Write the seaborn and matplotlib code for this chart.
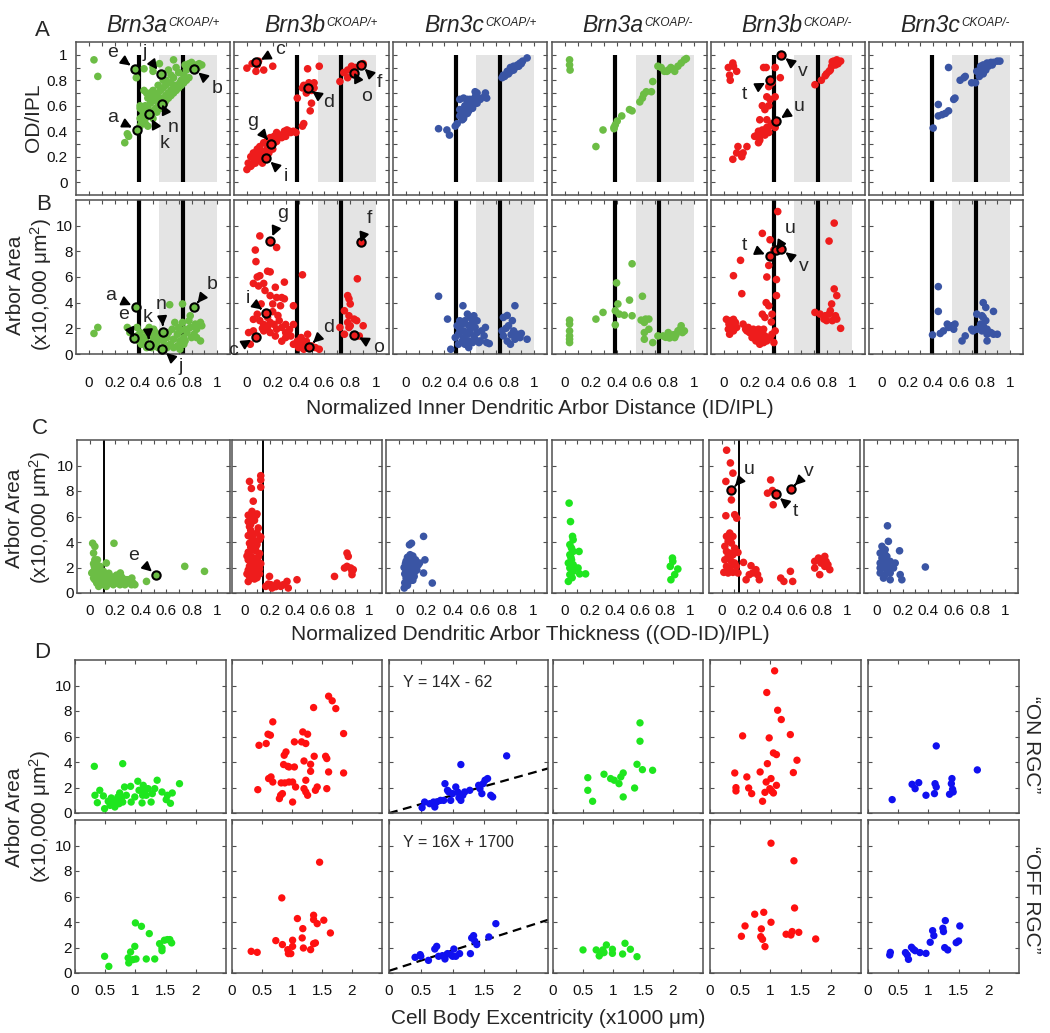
import matplotlib
matplotlib.use('Agg')
import matplotlib.pyplot as plt
from matplotlib.patches import Rectangle
import numpy as np
import seaborn as sns

# ---------------- data ----------------
genotypes = ['Brn3a', 'Brn3b', 'Brn3c', 'Brn3a', 'Brn3b', 'Brn3c']
alleles = ['CKOAP/+', 'CKOAP/+', 'CKOAP/+', 'CKOAP/-', 'CKOAP/-', 'CKOAP/-']

# IPL sublamina boundaries and ON band (ID/IPL units)
sublamina_lines = [0.39, 0.73]
on_band = [0.55, 1.0]
# thickness cut-offs in row C (None = no line)
thickness_cut = [0.11, 0.15, None, None, 0.14, None]

# row A: (ID/IPL, OD/IPL)
od_3a_het = [(0.04,0.96),(0.07,0.83),(0.36,0.89),(0.37,0.82),(0.43,0.89),(0.50,0.87),(0.56,0.85),(0.66,0.96),
             (0.60,0.80),(0.62,0.88),(0.64,0.84),(0.68,0.90),(0.70,0.86),(0.72,0.80),(0.75,0.92),(0.78,0.93),
             (0.80,0.94),(0.82,0.89),(0.84,0.92),(0.86,0.93),(0.88,0.92),(0.85,0.90),(0.79,0.90),(0.76,0.88),
             (0.74,0.84),(0.71,0.78),(0.68,0.76),(0.66,0.74),(0.64,0.72),(0.62,0.70),(0.60,0.68),(0.58,0.66),
             (0.56,0.64),(0.57,0.61),(0.54,0.62),(0.52,0.58),(0.50,0.56),(0.48,0.54),(0.47,0.535),(0.45,0.52),
             (0.44,0.50),(0.42,0.48),(0.41,0.46),(0.40,0.44),(0.375,0.41),(0.30,0.38),(0.31,0.36),(0.28,0.31),
             (0.40,0.58),(0.42,0.56),(0.44,0.60),(0.46,0.66),(0.48,0.70),(0.50,0.72),(0.52,0.68),(0.54,0.70),
             (0.56,0.72),(0.58,0.74),(0.60,0.76),(0.62,0.78),(0.58,0.80),(0.54,0.76),(0.50,0.66),(0.48,0.62),
             (0.46,0.58),(0.44,0.55),(0.42,0.52),(0.40,0.50),(0.43,0.72),(0.45,0.70),(0.40,0.60),(0.52,0.64),
             (0.55,0.66),(0.60,0.64),(0.62,0.66),(0.64,0.68),(0.66,0.70),(0.68,0.72),(0.70,0.74),(0.72,0.76),
             (0.74,0.78),(0.76,0.80),(0.78,0.82),(0.46,0.44),(0.44,0.46),(0.50,0.50),(0.53,0.55),(0.56,0.58),
             (0.59,0.62),(0.64,0.78),(0.66,0.82),(0.50,0.90),(0.55,0.93)]
od_3b_het = [(0.00,0.895),(0.04,0.93),(0.08,0.92),(0.09,0.95),(0.07,0.87),(0.13,0.88),(0.20,0.91),(0.07,0.94),
             (0.47,0.89),(0.56,0.91),(0.39,0.66),(0.43,0.74),(0.47,0.74),(0.44,0.76),(0.48,0.78),(0.50,0.76),
             (0.52,0.78),(0.50,0.72),(0.46,0.70),(0.52,0.74),(0.49,0.56),(0.50,0.62),(0.44,0.46),(0.43,0.44),
             (0.38,0.39),(0.72,0.79),(0.75,0.86),(0.78,0.88),(0.88,0.92),(0.83,0.86),(0.81,0.91),(0.84,0.90),
             (0.90,0.93),(0.78,0.82),(0.00,0.10),(0.01,0.15),(0.03,0.20),(0.19,0.30),(0.15,0.19),(0.05,0.23),
             (0.08,0.26),(0.10,0.28),(0.13,0.31),(0.16,0.33),(0.18,0.35),(0.21,0.36),(0.23,0.39),(0.26,0.37),
             (0.29,0.40),(0.31,0.41),(0.34,0.39),(0.09,0.18),(0.065,0.15),(0.04,0.14),(0.10,0.22),(0.13,0.24),
             (0.16,0.27),(0.18,0.28),(0.21,0.31),(0.23,0.32),(0.27,0.35),(0.05,0.19),(0.08,0.20),(0.12,0.15),
             (0.03,0.125),(0.14,0.20),(0.17,0.23),(0.20,0.26),(0.22,0.33),(0.25,0.36),(0.30,0.36),(0.33,0.40),
             (0.36,0.40)]
od_3c_het = [(0.255,0.42),(0.32,0.41),(0.34,0.37),(0.385,0.44),(0.40,0.46),(0.42,0.52),(0.44,0.54),(0.45,0.57),
             (0.46,0.60),(0.48,0.62),(0.49,0.63),(0.50,0.65),(0.52,0.62),(0.53,0.65),(0.54,0.67),(0.555,0.70),
             (0.57,0.66),(0.58,0.65),(0.61,0.67),(0.62,0.70),(0.63,0.66),(0.42,0.65),(0.45,0.66),(0.48,0.65),
             (0.54,0.71),(0.44,0.49),(0.46,0.53),(0.49,0.56),(0.52,0.58),(0.45,0.50),(0.42,0.57),(0.50,0.60),
             (0.53,0.61),(0.48,0.54),(0.555,0.62),(0.75,0.82),(0.76,0.84),(0.79,0.87),(0.815,0.90),(0.84,0.91),
             (0.87,0.92),(0.89,0.935),(0.945,0.975),(0.80,0.85),(0.83,0.88),(0.77,0.83),(0.85,0.90),(0.88,0.91),
             (0.91,0.95),(0.90,0.93),(0.79,0.85),(0.815,0.87),(0.84,0.88)]
od_3a_ko = [(0.036,0.96),(0.036,0.92),(0.04,0.88),(0.24,0.28),(0.295,0.41),(0.38,0.43),(0.39,0.45),(0.405,0.48),
            (0.44,0.52),(0.50,0.57),(0.52,0.56),(0.58,0.63),(0.60,0.66),(0.61,0.69),(0.63,0.71),(0.68,0.79),
            (0.67,0.71),(0.72,0.91),(0.745,0.90),(0.77,0.87),(0.80,0.88),(0.82,0.90),(0.85,0.87),(0.875,0.91),
            (0.90,0.935),(0.925,0.96),(0.94,0.97),(0.79,0.87),(0.83,0.89),(0.38,0.42)]
od_3b_ko = [(0.07,0.935),(0.075,0.91),(0.035,0.90),(0.10,0.87),(0.05,0.80),(0.045,0.84),(0.31,0.90),(0.33,0.90),
            (0.40,0.90),(0.36,0.80),(0.35,0.75),(0.375,0.78),(0.44,0.82),(0.445,1.00),(0.335,0.67),(0.36,0.65),
            (0.40,0.67),(0.30,0.60),(0.32,0.57),(0.35,0.60),(0.41,0.48),(0.28,0.49),(0.27,0.40),(0.26,0.37),
            (0.28,0.36),(0.31,0.40),(0.335,0.43),(0.36,0.44),(0.385,0.45),(0.40,0.43),(0.30,0.41),(0.32,0.37),
            (0.35,0.39),(0.27,0.31),(0.28,0.33),(0.24,0.36),(0.11,0.28),(0.10,0.23),(0.14,0.20),(0.15,0.23),
            (0.18,0.28),(0.07,0.18),(0.335,0.49),(0.375,0.46),(0.71,0.765),(0.76,0.80),(0.79,0.835),(0.82,0.87),
            (0.84,0.91),(0.855,0.95),(0.88,0.96),(0.91,0.95),(0.87,0.92),(0.89,0.93),(0.83,0.88),(0.845,0.945),
            (0.80,0.85)]
od_3c_ko = [(0.40,0.425),(0.44,0.61),(0.44,0.52),(0.47,0.53),(0.495,0.54),(0.52,0.56),(0.56,0.65),(0.57,0.66),
            (0.52,0.90),(0.61,0.80),(0.64,0.82),(0.65,0.83),(0.70,0.78),(0.73,0.78),(0.74,0.87),(0.77,0.91),
            (0.79,0.92),(0.82,0.935),(0.85,0.94),(0.87,0.94),(0.90,0.95),(0.92,0.95),(0.78,0.87),(0.81,0.88),
            (0.76,0.83),(0.79,0.85),(0.83,0.91),(0.86,0.92),(0.77,0.86),(0.81,0.91)]

# row B: (ID/IPL, arbor area x10,000 um2)
area_3a_het = [(0.04,1.6),(0.07,2.07),(0.37,3.63),(0.35,1.28),(0.30,2.07),(0.32,1.67),(0.47,0.71),(0.58,1.75),
               (0.57,0.37),(0.63,3.84),(0.73,3.9),(0.82,3.63),(0.79,2.98),(0.87,2.46),(0.88,2.2),(0.84,1.93),
               (0.87,1.02),(0.80,1.28),(0.375,2.07),(0.40,1.67),(0.43,1.28),(0.45,1.8),(0.48,1.41),(0.505,1.02),
               (0.53,1.28),(0.56,1.54),(0.58,1.02),(0.61,1.28),(0.635,0.76),(0.66,1.15),(0.69,1.54),(0.71,1.02),
               (0.74,1.28),(0.765,1.67),(0.79,2.07),(0.82,1.54),(0.84,1.28),(0.39,1.02),(0.41,0.76),(0.44,1.15),
               (0.49,0.5),(0.52,0.76),(0.54,0.5),(0.60,0.63),(0.62,1.67),(0.65,1.93),(0.67,2.46),(0.70,2.07),
               (0.73,2.46),(0.75,1.93),(0.78,2.59),(0.83,2.33),(0.47,2.07),(0.505,1.93),(0.53,0.89),(0.57,1.15),
               (0.61,0.5),(0.66,0.5),(0.69,0.63),(0.71,0.37),(0.74,0.76),(0.45,0.5),(0.40,1.28),(0.375,1.41),
               (0.49,1.54),(0.52,1.67),(0.71,1.8),(0.75,1.02)]
area_3b_het = [(0.026,0.76),(0.07,1.33),(0.013,1.67),(0.05,1.8),(0.15,3.2),(0.18,8.78),(0.10,9.2),(0.065,8.1),
               (0.07,7.2),(0.08,6.0),(0.10,6.1),(0.16,6.45),(0.18,6.4),(0.23,8.3),(0.05,5.5),(0.09,5.3),
               (0.13,5.5),(0.14,4.95),(0.22,5.2),(0.29,5.6),(0.23,4.4),(0.27,4.4),(0.29,4.3),(0.36,3.76),
               (0.18,4.55),(0.20,3.9),(0.26,3.76),(0.08,3.1),(0.10,2.6),(0.13,2.3),(0.16,2.85),(0.18,2.46),
               (0.21,2.3),(0.25,2.6),(0.27,2.07),(0.30,1.67),(0.34,1.4),(0.36,2.3),(0.30,1.28),(0.16,2.07),
               (0.05,2.7),(0.13,1.8),(0.18,1.67),(0.22,1.4),(0.23,1.93),(0.27,1.0),(0.36,0.76),(0.39,1.0),
               (0.43,6.17),(0.40,0.5),(0.43,0.76),(0.46,1.0),(0.48,0.57),(0.50,0.63),(0.53,0.5),(0.56,0.37),
               (0.47,1.54),(0.44,0.37),(0.42,1.28),(0.11,3.9),(0.20,3.3),(0.24,3.0),(0.12,2.0),(0.30,2.3),
               (0.33,1.9),(0.88,8.7),(0.855,5.86),(0.78,4.55),(0.79,4.3),(0.80,3.9),(0.755,3.37),(0.79,2.98),
               (0.83,2.72),(0.85,2.6),(0.78,2.46),(0.80,2.2),(0.90,2.2),(0.72,2.07),(0.755,1.54),(0.83,1.5),
               (0.87,1.4),(0.79,2.07)]
area_3c_het = [(0.255,4.5),(0.325,2.72),(0.35,0.37),(0.445,3.76),(0.40,2.2),(0.385,1.28),(0.41,1.54),(0.42,1.93),
               (0.44,2.33),(0.45,1.8),(0.46,2.59),(0.48,1.54),(0.49,2.2),(0.50,1.8),(0.52,2.46),(0.53,1.41),
               (0.54,2.07),(0.555,1.67),(0.57,0.89),(0.58,1.02),(0.59,1.8),(0.61,1.41),(0.62,2.07),(0.63,0.89),
               (0.65,0.81),(0.44,1.02),(0.46,0.76),(0.49,1.02),(0.52,0.89),(0.54,1.15),(0.42,2.59),(0.50,2.85),
               (0.53,2.98),(0.48,3.11),(0.555,2.59),(0.45,1.28),(0.49,0.5),(0.41,0.76),(0.76,2.85),(0.79,3.0),
               (0.85,3.76),(0.83,2.6),(0.80,2.2),(0.84,1.8),(0.87,1.54),(0.89,1.28),(0.945,1.15),(0.76,1.41),
               (0.79,1.0),(0.815,0.76),(0.85,1.15),(0.75,1.8),(0.78,2.0),(0.82,1.5),(0.90,1.6)]
area_3a_ko = [(0.036,2.64),(0.036,2.33),(0.036,1.8),(0.036,1.41),(0.036,0.89),(0.036,1.15),(0.24,2.72),(0.295,3.24),
              (0.40,5.54),(0.52,7.03),(0.41,3.9),(0.39,3.37),(0.42,3.11),(0.46,3.03),(0.50,4.2),(0.52,2.98),
              (0.39,2.27),(0.60,4.5),(0.59,2.64),(0.625,2.72),(0.65,2.72),(0.615,2.46),(0.65,1.93),(0.615,1.67),
              (0.615,1.15),(0.68,0.89),(0.72,1.41),(0.76,1.41),(0.80,1.67),(0.82,1.41),(0.85,1.28),(0.875,1.8),
              (0.90,2.2),(0.91,1.67),(0.925,1.8),(0.84,1.5),(0.86,1.5),(0.89,1.9),(0.78,1.3),(0.81,1.25)]
area_3b_ko = [(0.42,11.1),(0.86,10.2),(0.82,8.8),(0.30,9.4),(0.36,8.9),(0.41,8.1),(0.445,8.2),(0.36,7.6),
              (0.39,8.1),(0.13,7.3),(0.075,6.1),(0.14,4.7),(0.335,6.0),(0.35,6.9),(0.41,5.8),(0.41,4.55),
              (0.33,4.0),(0.35,3.76),(0.375,3.1),(0.30,3.1),(0.32,2.85),(0.37,2.5),(0.40,1.8),(0.375,1.54),
              (0.36,1.28),(0.32,1.41),(0.30,1.67),(0.27,1.93),(0.245,1.54),(0.22,1.28),(0.25,1.02),(0.28,1.15),
              (0.31,0.89),(0.39,0.89),(0.28,0.76),(0.335,1.02),(0.26,1.41),(0.31,1.93),(0.23,1.93),(0.20,1.67),
              (0.02,2.7),(0.05,2.6),(0.075,2.7),(0.04,2.33),(0.06,2.2),(0.09,2.46),(0.035,1.93),(0.075,1.8),
              (0.10,2.07),(0.045,1.54),(0.15,2.33),(0.17,1.93),(0.19,2.07),(0.18,1.8),(0.71,3.24),(0.75,3.11),
              (0.79,2.98),(0.82,3.11),(0.84,3.9),(0.86,5.07),(0.88,4.55),(0.80,2.6),(0.83,3.37),(0.87,2.98),
              (0.88,2.72),(0.91,2.0),(0.845,2.6),(0.78,2.72)]
area_3c_ko = [(0.44,5.25),(0.44,3.32),(0.395,1.49),(0.455,1.6),(0.48,1.8),(0.51,2.33),(0.52,2.07),(0.545,2.2),
              (0.57,2.33),(0.56,1.93),(0.65,1.41),(0.625,1.02),(0.74,3.11),(0.79,4.0),(0.81,3.63),(0.87,3.32),
              (0.74,1.93),(0.77,2.33),(0.78,1.8),(0.79,2.2),(0.81,2.6),(0.82,1.93),(0.85,1.67),(0.87,1.54),
              (0.90,1.54),(0.82,1.54),(0.82,1.02),(0.71,1.8),(0.70,1.93),(0.79,2.85),(0.78,2.98)]

# row C: (thickness (OD-ID)/IPL, arbor area)
thick_3a_het = [(0.023,3.9),(0.04,3.65),(0.03,3.13),(0.04,2.6),(0.036,2.09),(0.055,1.83),(0.07,1.57),(0.08,1.3),
                (0.04,1.04),(0.055,0.78),(0.07,0.52),(0.094,0.91),(0.08,2.09),(0.107,1.7),(0.12,1.44),(0.13,1.04),
                (0.146,1.3),(0.17,1.04),(0.20,1.17),(0.22,0.91),(0.24,1.57),(0.26,1.04),(0.29,0.78),(0.315,0.91),
                (0.33,1.17),(0.34,0.78),(0.19,3.9),(0.13,2.35),(0.52,1.38),(0.445,0.91),(0.745,2.09),(0.90,1.7),
                (0.016,1.57),(0.03,1.17),(0.055,1.44),(0.08,0.91),(0.107,0.65),(0.13,0.52),(0.16,0.78),(0.185,0.65),
                (0.21,0.78),(0.237,0.65),(0.276,0.65),(0.30,1.04),(0.328,0.65),(0.354,0.65),(0.05,2.3),(0.06,1.95),
                (0.09,1.5),(0.10,1.15),(0.15,1.55),(0.18,1.25),(0.21,1.4),(0.25,1.25),(0.28,1.05),(0.03,1.7),
                (0.045,1.35),(0.065,1.1),(0.06,2.6),(0.03,2.3)]
thick_3b_het = [(0.13,9.2),(0.13,8.87),(0.04,8.75),(0.13,8.3),(0.055,8.2),(0.07,7.2),(0.03,6.1),(0.055,6.0),
                (0.094,6.1),(0.04,5.2),(0.03,5.6),(0.08,5.7),(0.05,4.9),(0.10,4.7),(0.13,4.4),(0.03,4.5),
                (0.06,4.3),(0.08,4.1),(0.04,3.9),(0.10,3.8),(0.05,3.6),(0.07,3.4),(0.12,3.1),(0.03,3.2),
                (0.09,3.3),(0.04,3.0),(0.06,2.8),(0.08,2.7),(0.10,2.5),(0.03,2.6),(0.05,2.4),(0.07,2.3),
                (0.09,2.2),(0.11,2.0),(0.04,2.1),(0.06,1.9),(0.08,1.8),(0.10,1.7),(0.03,1.8),(0.05,1.6),
                (0.07,1.5),(0.09,1.4),(0.12,1.5),(0.04,1.3),(0.06,1.2),(0.08,1.1),(0.03,0.9),(0.10,1.2),
                (0.05,5.4),(0.11,5.1),(0.07,4.6),(0.09,3.6),(0.11,2.8),(0.06,6.4),(0.10,6.2),(0.12,1.9),
                (0.13,2.3),(0.02,2.9),(0.02,1.5),(0.12,4.2),(0.20,1.3),(0.17,0.52),(0.21,0.65),(0.23,0.52),
                (0.26,0.78),(0.29,0.52),(0.31,0.65),(0.34,0.91),(0.35,0.39),(0.42,1.04),(0.22,0.39),(0.19,0.7),
                (0.25,0.5),(0.72,1.3),(0.82,3.13),(0.83,2.87),(0.80,1.96),(0.82,2.09),(0.85,1.96),(0.86,1.7),
                (0.87,1.83),(0.86,1.44)]
thick_3c_het = [(0.036,0.39),(0.05,1.17),(0.06,1.57),(0.075,1.96),(0.075,3.78),(0.09,3.9),(0.18,4.44),(0.19,2.6),
                (0.15,2.35),(0.18,1.57),(0.245,0.78),(0.04,0.8),(0.05,2.5),(0.06,2.8),(0.07,2.2),(0.08,1.8),
                (0.09,1.4),(0.10,1.0),(0.11,1.6),(0.12,2.0),(0.04,1.5),(0.05,1.9),(0.06,1.2),(0.07,0.9),
                (0.08,2.4),(0.09,2.1),(0.10,1.9),(0.11,1.3),(0.12,2.6),(0.13,1.8),(0.14,2.2),(0.035,2.0),
                (0.045,2.3),(0.06,0.6),(0.10,2.9),(0.08,3.0),(0.05,1.7),(0.07,1.4),(0.09,1.1),(0.11,2.3)]
thick_3a_ko = [(0.036,7.05),(0.047,5.6),(0.063,4.44),(0.068,4.18),(0.042,3.79),(0.055,3.52),(0.068,3.26),(0.042,3.0),
               (0.055,2.6),(0.03,2.35),(0.068,2.22),(0.115,3.26),(0.042,1.96),(0.08,1.96),(0.107,1.96),(0.068,1.7),
               (0.042,1.44),(0.12,1.5),(0.167,1.5),(0.03,0.91),(0.05,2.8),(0.06,1.2),(0.857,2.74),(0.86,2.48),
               (0.84,2.09),(0.90,1.88),(0.875,1.44),(0.845,1.04)]
thick_3b_ko = [(0.04,11.2),(0.07,10.2),(0.09,9.4),(0.034,8.75),(0.078,8.04),(0.078,7.3),(0.034,6.06),(0.104,6.14),
               (0.12,5.87),(0.065,4.7),(0.039,4.44),(0.09,4.44),(0.052,4.05),(0.078,3.92),(0.026,3.66),(0.104,3.52),
               (0.039,3.26),(0.065,3.13),(0.052,2.87),(0.09,3.0),(0.13,3.18),(0.026,2.6),(0.078,2.48),(0.104,2.35),
               (0.039,2.09),(0.117,2.09),(0.018,1.62),(0.052,1.57),(0.09,1.62),(0.13,1.57),(0.065,1.96),(0.174,2.4),
               (0.234,2.14),(0.195,1.04),(0.247,1.57),(0.273,1.83),(0.286,1.44),(0.30,1.04),(0.22,1.44),(0.365,7.83),
               (0.39,8.87),(0.404,8.04),(0.43,7.73),(0.41,6.92),(0.55,8.14),(0.47,1.17),(0.495,0.91),(0.547,1.7),
               (0.565,0.91),(0.74,2.48),(0.74,1.96),(0.77,2.74),(0.78,1.44),(0.79,2.35),(0.81,2.6),(0.82,2.87),
               (0.83,2.48),(0.845,2.22),(0.86,1.83),(0.82,2.09)]
thick_3c_ko = [(0.083,5.27),(0.09,4.05),(0.04,3.66),(0.052,3.39),(0.177,3.31),(0.026,3.13),(0.065,3.0),(0.04,2.74),
               (0.078,2.87),(0.026,2.35),(0.065,2.22),(0.104,2.48),(0.143,2.35),(0.04,1.96),(0.078,1.83),(0.13,1.96),
               (0.378,2.04),(0.026,1.57),(0.065,1.44),(0.104,1.57),(0.182,1.44),(0.195,1.04),(0.104,1.04),(0.052,1.17),
               (0.026,1.96),(0.078,2.35),(0.052,2.6),(0.09,2.1),(0.065,3.4)]

# row D: (eccentricity x1000 um, arbor area), ON and OFF cells
on_3a_het = [(0.32,3.66),(0.79,3.87),(0.33,1.39),(0.41,1.78),(0.37,0.81),(0.47,1.34),(0.49,0.34),(0.55,0.92),
             (0.58,0.6),(0.63,0.79),(0.66,0.47),(0.68,1.0),(0.71,1.26),(0.74,1.57),(0.77,1.2),(0.79,0.86),
             (0.82,2.04),(0.85,1.39),(0.92,2.09),(0.93,0.86),(0.99,1.26),(1.04,2.49),(1.06,1.78),(1.11,0.79),
             (1.13,2.17),(1.15,1.78),(1.18,1.39),(1.21,1.91),(1.26,0.86),(1.28,1.52),(1.32,1.91),(1.36,2.57),
             (1.44,1.65),(1.51,1.05),(1.53,1.39),(1.58,0.76),(1.61,1.57),(1.73,2.3),(0.60,1.18),(0.73,0.73),
             (1.12,1.39)]
off_3a_het = [(0.49,1.31),(0.56,0.52),(0.88,1.18),(0.89,0.79),(0.92,1.65),(0.99,2.09),(0.96,1.05),(1.01,1.1),
              (1.0,3.93),(1.1,3.66),(1.18,1.1),(1.23,3.09),(1.32,1.1),(1.4,2.3),(1.44,1.96),(1.44,1.75),
              (1.48,2.57),(1.53,2.62),(1.57,2.62),(1.6,2.36)]
on_3b_het = [(0.45,5.31),(0.57,5.45),(0.43,1.83),(0.60,6.18),(0.64,6.1),(0.68,7.15),(0.61,2.7),(0.65,2.83),
             (0.68,2.43),(0.79,1.13),(0.81,1.39),(0.84,1.52),(0.87,4.53),(0.90,4.79),(0.86,3.8),(0.93,3.66),
             (0.95,3.61),(0.82,2.36),(0.88,2.36),(0.95,2.43),(1.01,0.86),(1.04,5.58),(1.04,3.61),(1.06,2.04),
             (1.16,5.58),(1.18,6.36),(1.23,5.45),(1.26,6.18),(1.20,4.08),(1.23,2.57),(1.20,1.91),(1.23,1.65),
             (1.26,1.39),(1.31,3.82),(1.31,3.27),(1.36,8.27),(1.37,4.45),(1.39,1.78),(1.42,2.04),(1.56,4.45),
             (1.58,4.27),(1.58,1.91),(1.61,9.16),(1.67,8.8),(1.73,8.19),(1.61,3.22),(1.86,6.23),(1.86,3.14),
             (1.01,2.43)]
off_3b_het = [(0.32,1.7),(0.42,1.62),(0.73,2.54),(0.83,5.89),(0.84,2.23),(0.93,1.83),(0.94,1.52),(0.98,1.52),
              (1.01,2.09),(1.01,2.57),(1.09,4.27),(1.18,3.48),(1.17,2.75),(1.19,1.96),(1.31,1.83),(1.36,4.53),
              (1.36,4.19),(1.36,2.3),(1.39,2.36),(1.42,3.87),(1.46,8.69),(1.53,4.14),(1.64,3.14)]
on_3c_het = [(0.52,0.42),(0.56,0.86),(0.64,0.73),(0.70,0.86),(0.75,0.86),(0.81,0.99),(0.86,0.99),(0.88,2.3),
             (0.92,1.78),(0.94,1.65),(0.97,0.99),(1.00,1.52),(1.05,2.04),(1.08,1.65),(1.13,3.8),(1.13,0.99),
             (1.16,1.39),(1.19,1.65),(1.27,1.78),(1.41,2.17),(1.43,1.91),(1.46,1.52),(1.48,2.3),(1.51,2.57),
             (1.55,2.7),(1.60,1.39),(1.63,1.26),(1.85,4.48),(0.72,0.47),(1.10,1.2)]
off_3c_het = [(0.41,1.23),(0.49,1.44),(0.50,1.31),(0.62,0.99),(0.72,1.88),(0.75,2.09),(0.78,1.31),(0.84,1.36),
              (0.88,1.1),(0.92,1.52),(0.97,1.44),(1.00,1.31),(1.02,1.88),(1.05,1.31),(1.11,1.52),(1.28,1.52),
              (1.30,2.75),(1.33,2.93),(1.35,2.49),(1.38,2.23),(1.57,2.83),(1.68,3.87)]
on_3a_ko = [(0.58,2.77),(0.58,1.78),(0.66,0.92),(0.85,3.04),(0.96,2.7),(1.02,2.57),(1.10,2.3),(1.13,2.83),
            (1.17,3.14),(1.17,1.26),(1.36,1.96),(1.40,3.82),(1.45,5.63),(1.45,7.07),(1.49,3.4),(1.66,3.35)]
off_3a_ko = [(0.50,1.81),(0.72,1.81),(0.80,1.54),(0.77,1.34),(0.85,1.6),(0.89,2.2),(0.99,1.86),(0.99,1.54),
             (1.16,1.49),(1.20,2.33),(1.29,1.86),(1.40,1.28),(0.83,1.81)]
on_3b_ko = [(1.07,11.15),(0.94,9.45),(1.12,8.06),(1.18,7.33),(0.54,6.05),(0.98,5.89),(1.33,6.15),(1.05,4.71),
            (1.10,4.58),(1.44,4.14),(0.95,3.87),(0.41,3.14),(0.61,2.83),(0.83,3.22),(1.01,2.7),(0.93,2.43),
            (1.10,2.17),(1.38,3.17),(0.43,1.99),(0.43,1.73),(0.64,1.96),(0.69,1.52),(0.91,1.62),(0.99,1.91),
            (1.02,1.73),(1.05,1.57),(0.87,0.92)]
off_3b_ko = [(1.01,10.18),(1.39,8.8),(1.40,5.1),(0.74,4.61),(0.89,4.76),(1.01,3.98),(0.58,3.69),(0.85,3.46),
             (0.52,2.88),(0.84,2.85),(0.87,2.64),(0.91,2.07),(1.26,3.04),(1.34,2.98),(1.36,3.25),(1.47,3.19),
             (1.75,2.67)]
on_3c_ko = [(0.40,1.05),(0.73,2.25),(0.78,1.91),(0.84,2.38),(0.96,1.39),(1.10,1.52),(1.11,2.3),(1.13,2.04),
            (1.13,5.26),(1.35,1.47),(1.38,2.3),(1.39,2.7),(1.40,1.86),(1.41,1.65),(1.81,3.38)]
off_3c_ko = [(0.36,1.41),(0.37,1.62),(0.62,1.6),(0.65,1.41),(0.67,1.07),(0.72,2.02),(0.75,1.86),(0.78,1.75),
             (0.86,1.6),(0.96,1.54),(1.03,2.41),(1.07,3.32),(1.09,2.93),(1.24,3.51),(1.25,3.25),(1.28,4.11),
             (1.27,1.99),(1.32,1.81),(1.46,2.38),(1.50,2.51),(1.52,3.69)]

# Brn3c het linear fits: area(um2) = slope * ecc(um) + intercept
fit_slope = [14, 16]
fit_intercept = [-62, 1700]

# example cells marked with letters
marks_od_3a_het = {'e': (0.36,0.89), 'j': (0.56,0.85), 'b': (0.82,0.89), 'a': (0.375,0.41), 'k': (0.47,0.535), 'n': (0.57,0.61)}
marks_od_3b_het = {'c': (0.07,0.94), 'g': (0.19,0.30), 'i': (0.15,0.19), 'd': (0.47,0.74), 'o': (0.83,0.86), 'f': (0.88,0.92)}
marks_od_3b_ko = {'t': (0.36,0.80), 'u': (0.41,0.48), 'v': (0.445,1.00)}
marks_area_3a_het = {'a': (0.37,3.63), 'e': (0.35,1.28), 'k': (0.47,0.71), 'n': (0.58,1.75), 'j': (0.57,0.37), 'b': (0.82,3.63)}
marks_area_3b_het = {'g': (0.18,8.78), 'f': (0.88,8.7), 'i': (0.15,3.2), 'c': (0.07,1.33), 'd': (0.48,0.57), 'o': (0.83,1.5)}
marks_area_3b_ko = {'t': (0.36,7.6), 'u': (0.41,8.1), 'v': (0.445,8.2)}
marks_thick_3a_het = {'e': (0.52,1.38)}
marks_thick_3b_ko = {'u': (0.078,8.04), 'v': (0.55,8.14), 't': (0.43,7.73)}

# ---------------- style ----------------
sns.set_theme(style='white')
plt.rcParams['font.family'] = ['Liberation Sans', 'DejaVu Sans']
plt.rcParams['mathtext.fontset'] = 'custom'
plt.rcParams['mathtext.rm'] = 'Liberation Sans'
plt.rcParams['mathtext.it'] = 'Liberation Sans:italic'

W, H = 1050, 1033
fig = plt.figure(figsize=(W / 100, H / 100), dpi=100)

green = '#6cbd45'
green_hi = '#1ee61e'
red = '#ee1c1c'
red_hi = '#ff1010'
blue = '#3a55a4'
blue_hi = '#1010f0'
gray_band = '#e4e4e4'
frame = '#505050'

cols_ab = [(76, 230), (234, 389), (393, 547), (552, 707), (711, 865), (869, 1023)]
cols_c = [(77, 230), (232, 382), (386, 547), (552, 703), (709, 860), (864, 1018)]
cols_d = [(75, 226), (232, 382), (389, 548), (553, 703), (710, 861), (868, 1019)]


def px_axes(l, t, r, b):
    return fig.add_axes([l / W, 1 - b / H, (r - l) / W, (b - t) / H])


def fig_text(x, y, s, **kw):
    return fig.text(x / W, 1 - y / H, s, **kw)


def frame_axes(ax, xlim, ylim, xt, yt, xminor, yminor, xlab, ylab, xpad, ypad):
    ax.set_xlim(xlim)
    ax.set_ylim(ylim)
    ax.set_xticks(xt)
    ax.set_yticks(yt)
    ax.set_xticks(xminor, minor=True)
    ax.set_yticks(yminor, minor=True)
    ax.set_xticklabels(xlab if xlab else [])
    ax.set_yticklabels(ylab if ylab else [])
    ax.tick_params(which='both', direction='in', top=True, right=True, bottom=True, left=True,
                   length=3, width=0.8, color=frame, labelsize=11, labelcolor='#111')
    ax.tick_params(axis='x', pad=xpad)
    ax.tick_params(axis='y', pad=ypad)
    for sp in ax.spines.values():
        sp.set_visible(True)
        sp.set_color(frame)
        sp.set_linewidth(1.1)
    ax.set_xlabel('')
    ax.set_ylabel('')
    ax.set_facecolor('white')


def dots(ax, pts, color, size=30):
    xs = [p[0] for p in pts]
    ys = [p[1] for p in pts]
    sns.scatterplot(x=xs, y=ys, ax=ax, color=color, s=size, edgecolor='none', linewidth=0,
                    legend=False, zorder=3)


def marks(ax, pts_dict, color, offsets):
    for name, (mx, my) in pts_dict.items():
        ax.scatter([mx], [my], s=36, facecolors=color, edgecolors='black', linewidths=1.5, zorder=5)
        ax.annotate(name, xy=(mx, my), xytext=offsets[name], textcoords='offset pixels',
                    fontsize=14, ha='center', va='center', zorder=6,
                    arrowprops=dict(arrowstyle='-|>', color='black', lw=1.4, mutation_scale=14,
                                    shrinkA=6, shrinkB=4))


colors_ab = [green, red, blue, green, red, blue]
colors_c = [green, red, blue, green_hi, red, blue]
colors_d = [green_hi, red_hi, blue_hi, green_hi, red_hi, blue_hi]

row_a = [od_3a_het, od_3b_het, od_3c_het, od_3a_ko, od_3b_ko, od_3c_ko]
row_b = [area_3a_het, area_3b_het, area_3c_het, area_3a_ko, area_3b_ko, area_3c_ko]
row_c = [thick_3a_het, thick_3b_het, thick_3c_het, thick_3a_ko, thick_3b_ko, thick_3c_ko]
row_on = [on_3a_het, on_3b_het, on_3c_het, on_3a_ko, on_3b_ko, on_3c_ko]
row_off = [off_3a_het, off_3b_het, off_3c_het, off_3a_ko, off_3b_ko, off_3c_ko]

marks_a = {0: (marks_od_3a_het, {'e': (-22, 16), 'j': (-16, 21), 'b': (23, -20), 'a': (-24, 12), 'k': (15, -29), 'n': (11, -23)}),
           1: (marks_od_3b_het, {'c': (24, 13), 'g': (-19, 22), 'i': (20, -18), 'd': (21, -15), 'o': (12, -24), 'f': (19, -18)}),
           4: (marks_od_3b_ko, {'t': (-26, -14), 'u': (23, 15), 'v': (22, -17)})}
marks_b = {0: (marks_area_3a_het, {'a': (-26, 12), 'e': (-10, 23), 'k': (-2, 27), 'n': (-2, 27), 'j': (19, -17), 'b': (18, 23)}),
           1: (marks_area_3b_het, {'g': (12, 28), 'f': (9, 24), 'i': (-18, 14), 'c': (-23, -14), 'd': (20, 19), 'o': (24, -13)}),
           4: (marks_area_3b_ko, {'t': (-26, 11), 'u': (14, 22), 'v': (23, -18)})}
marks_c = {0: (marks_thick_3a_het, {'e': (-22, 20)}),
           4: (marks_thick_3b_ko, {'u': (18, 21), 'v': (18, 18), 't': (20, -17)})}

x01 = [0, 0.2, 0.4, 0.6, 0.8, 1]
x01_lab = ['0', '0.2', '0.4', '0.6', '0.8', '1']
x01_minor = [0.1, 0.3, 0.5, 0.7, 0.9]
area_t = [0, 2, 4, 6, 8, 10]
area_lab = ['0', '2', '4', '6', '8', '10']

for i in range(6):
    # ---- row A ----
    l, r = cols_ab[i]
    ax = px_axes(l, 42, r, 195)
    ax.add_patch(Rectangle((on_band[0], 0), on_band[1] - on_band[0], 1, color=gray_band, lw=0, zorder=0))
    for v in sublamina_lines:
        ax.plot([v, v], [0, 1], color='black', lw=3, zorder=2, solid_capstyle='butt')
    dots(ax, row_a[i], colors_ab[i])
    if i in marks_a:
        marks(ax, marks_a[i][0], colors_ab[i], marks_a[i][1])
    frame_axes(ax, (-0.1, 1.1), (-0.1, 1.1), x01, x01, x01_minor, x01_minor,
               None, x01_lab if i == 0 else None, 3, 6)
    # genotype title: italic gene name plus small italic superscript allele
    t = fig_text((l + r) / 2 + 14, 26, genotypes[i], fontsize=16.5, style='italic',
                 ha='right', va='center')
    ax.annotate(alleles[i], xy=(1, 1), xycoords=t, xytext=(1, -3), textcoords='offset pixels',
                fontsize=8.5, style='italic', ha='left', va='top', annotation_clip=False)

    # ---- row B ----
    ax = px_axes(l, 200, r, 354)
    ax.axvspan(on_band[0], on_band[1], color=gray_band, lw=0, zorder=0)
    for v in sublamina_lines:
        ax.axvline(v, color='black', lw=3, zorder=2)
    dots(ax, row_b[i], colors_ab[i])
    if i in marks_b:
        marks(ax, marks_b[i][0], colors_ab[i], marks_b[i][1])
    frame_axes(ax, (-0.1, 1.1), (0, 12), x01, area_t, x01_minor, [],
               x01_lab, area_lab if i == 0 else None, 16, 2)

    # ---- row C ----
    l, r = cols_c[i]
    ax = px_axes(l, 440, r, 593)
    if thickness_cut[i] is not None:
        ax.axvline(thickness_cut[i], color='black', lw=1.4, zorder=2)
    dots(ax, row_c[i], colors_c[i])
    if i in marks_c:
        marks(ax, marks_c[i][0], colors_c[i], marks_c[i][1])
    frame_axes(ax, (-0.1, 1.1), (0, 12), x01, area_t, x01_minor, [],
               x01_lab, area_lab if i == 0 else None, 8, 2)

    # ---- row D (ON / OFF) ----
    l, r = cols_d[i]
    for j, (top, bot, data) in enumerate([(660, 813, row_on), (820, 973, row_off)]):
        ax = px_axes(l, top, r, bot)
        dots(ax, data[i], colors_d[i], size=28)
        if i == 2:
            xx = np.array([0, 2.5])
            yy = (fit_slope[j] * xx * 1000 + fit_intercept[j]) / 10000
            ax.plot(xx, yy, color='black', lw=1.6, ls=(0, (4, 2.5)), zorder=2)
            sign = '-' if fit_intercept[j] < 0 else '+'
            ax.text(0.09, 0.85, 'Y = %dX %s %d' % (fit_slope[j], sign, abs(fit_intercept[j])),
                    transform=ax.transAxes, fontsize=11.5, ha='left', va='center')
        frame_axes(ax, (0, 2.5), (0, 12), [0, 0.5, 1, 1.5, 2], area_t, [], [],
                   ['0', '0.5', '1', '1.5', '2'] if j == 1 else None,
                   area_lab if i == 0 else None, 8, 2)

# ---- shared labels ----
fig_text(42, 30, 'A', fontsize=16, ha='center', va='center')
fig_text(44, 205, 'B', fontsize=16, ha='center', va='center')
fig_text(40, 429, 'C', fontsize=16, ha='center', va='center')
fig_text(42, 653, 'D', fontsize=16, ha='center', va='center')

fig_text(33, 118, 'OD/IPL', fontsize=15, rotation=90, ha='center', va='center')
area_label = 'Arbor Area\n(x10,000 μm$^2$)'
fig_text(30, 285, area_label, fontsize=15, rotation=90, ha='center', va='center', linespacing=1.2)
fig_text(29, 518, area_label, fontsize=15, rotation=90, ha='center', va='center', linespacing=1.2)
fig_text(29, 817, area_label, fontsize=15, rotation=90, ha='center', va='center', linespacing=1.2)

fig_text(540, 409, 'Normalized Inner Dendritic Arbor Distance (ID/IPL)', fontsize=15, ha='center', va='center')
fig_text(530, 635, 'Normalized Dendritic Arbor Thickness ((OD-ID)/IPL)', fontsize=15, ha='center', va='center')
fig_text(548, 1019, 'Cell Body Excentricity (x1000 μm)', fontsize=15, ha='center', va='center')

fig_text(1032, 745, '\u201cON RGC\u201d', fontsize=15, rotation=-90, ha='center', va='center')
fig_text(1032, 900, '\u201cOFF RGC\u201d', fontsize=15, rotation=-90, ha='center', va='center')

fig.savefig('out.png', dpi=100, facecolor='white')
